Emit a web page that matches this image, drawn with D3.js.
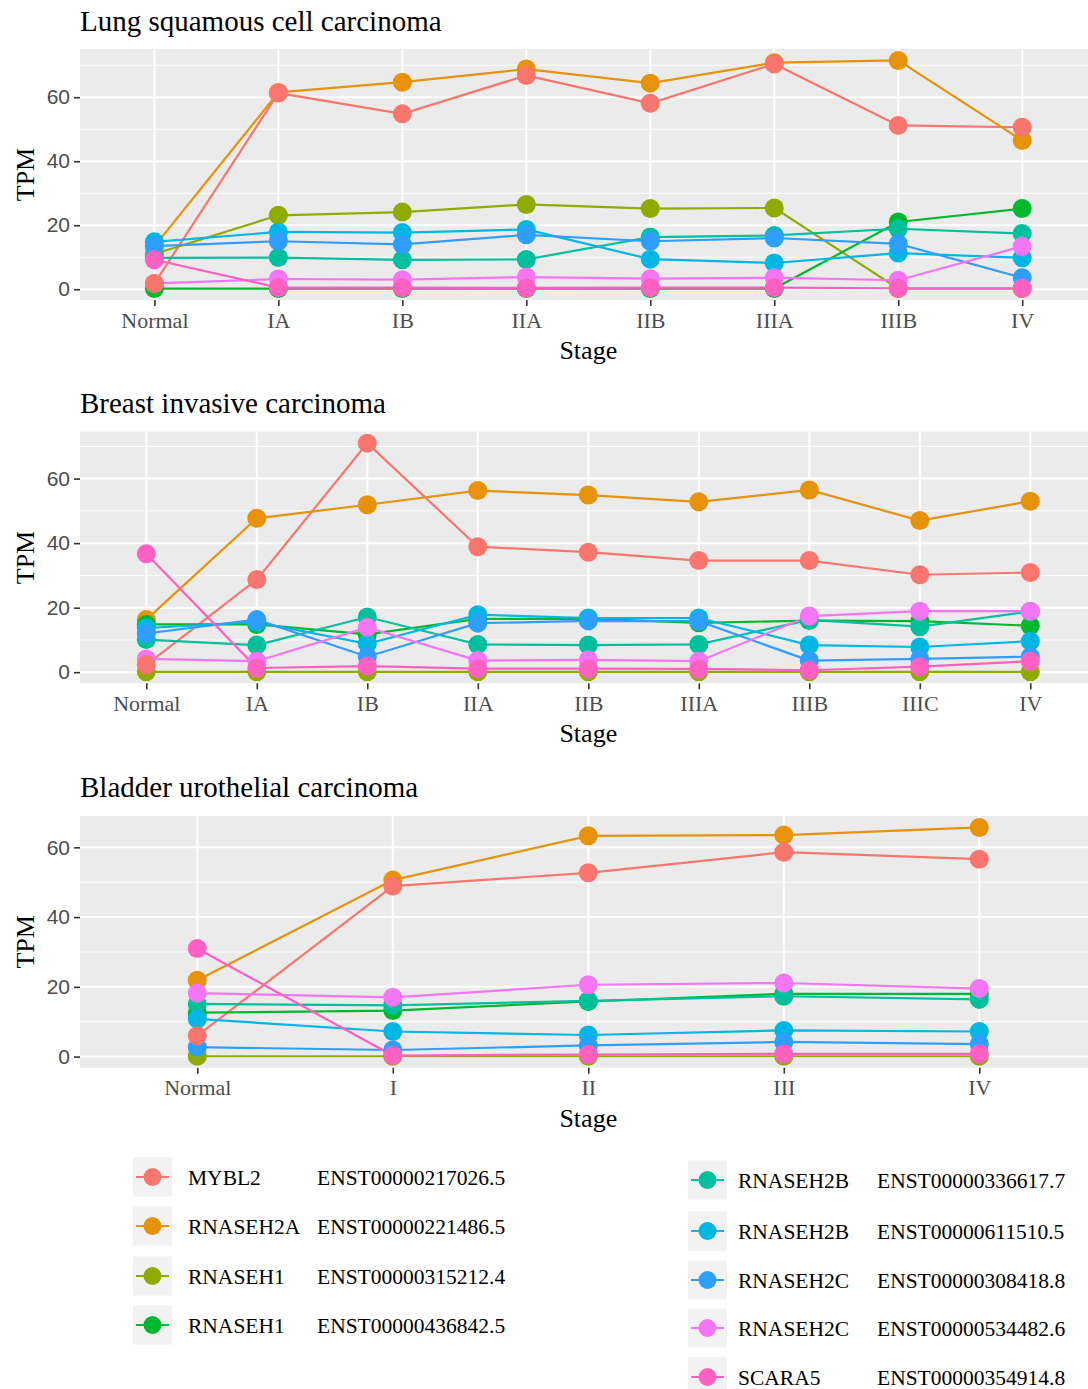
<!DOCTYPE html>
<html><head><meta charset="utf-8">
<script src="https://cdn.jsdelivr.net/npm/d3@7"></script>
<style>body{margin:0;background:#fff}svg{display:block}</style>
</head><body>
<script>
// ---------- data ----------
const seriesGenes = ["MYBL2","RNASEH2A","RNASEH1","RNASEH1","RNASEH2B","RNASEH2B","RNASEH2C","RNASEH2C","SCARA5"];
const seriesIds = ["ENST00000217026.5","ENST00000221486.5","ENST00000315212.4","ENST00000436842.5","ENST00000336617.7","ENST00000611510.5","ENST00000308418.8","ENST00000534482.6","ENST00000354914.8"];
const seriesColors = ["#F8766D","#E6920A","#8FAA00","#00B82E","#00BF9C","#00B6E2","#2E9EFF","#F476F5","#FF61C3"];

const lungStages = ["Normal","IA","IB","IIA","IIB","IIIA","IIIB","IV"];
const lungValues = [
  [1.8, 61.3, 54.8, 66.8, 58.1, 70.4, 51.2, 50.6],
  [13.4, 61.5, 64.7, 68.8, 64.4, 70.8, 71.5, 46.5],
  [11.0, 23.1, 24.1, 26.5, 25.2, 25.4, 0.2, 0.2],
  [0.2, 0.2, 0.2, 0.2, 0.2, 0.2, 21.0, 25.2],
  [9.8, 9.9, 9.2, 9.3, 16.3, 16.8, 18.9, 17.4],
  [14.8, 17.9, 17.7, 18.7, 9.4, 8.2, 11.3, 9.8],
  [13.5, 15.0, 14.0, 17.0, 15.0, 16.0, 14.2, 3.6],
  [1.8, 3.2, 3.0, 3.8, 3.3, 3.6, 2.8, 13.4],
  [9.2, 0.5, 0.5, 0.4, 0.5, 0.5, 0.3, 0.3]
];

const breastStages = ["Normal","IA","IB","IIA","IIB","IIIA","IIIB","IIIC","IV"];
const breastValues = [
  [2.3, 28.7, 71.0, 38.9, 37.2, 34.6, 34.6, 30.2, 30.9],
  [16.3, 47.7, 51.9, 56.3, 54.9, 52.8, 56.5, 47.0, 53.0],
  [0.1, 0.1, 0.1, 0.1, 0.1, 0.1, 0.1, 0.1, 0.1],
  [14.8, 14.8, 11.7, 16.5, 16.6, 15.3, 16.0, 15.8, 14.4],
  [10.1, 8.4, 17.1, 8.6, 8.4, 8.6, 16.2, 14.1, 18.8],
  [13.7, 15.5, 8.8, 17.8, 16.8, 16.8, 8.4, 7.8, 9.6],
  [12.0, 16.3, 4.8, 15.2, 15.9, 15.8, 3.6, 4.1, 4.8],
  [4.1, 3.4, 13.9, 3.6, 3.8, 3.4, 17.4, 18.9, 18.9],
  [36.7, 1.3, 1.9, 1.1, 1.1, 1.0, 0.6, 1.7, 3.4]
];

const bladderStages = ["Normal","I","II","III","IV"];
const bladderValues = [
  [6.0, 48.9, 52.7, 58.6, 56.6],
  [21.9, 50.6, 63.3, 63.5, 65.7],
  [0.1, 0.1, 0.1, 0.1, 0.1],
  [12.6, 13.2, 15.8, 18.0, 18.0],
  [15.1, 14.7, 16.0, 17.3, 16.4],
  [10.8, 7.2, 6.2, 7.5, 7.2],
  [2.7, 1.9, 3.2, 4.2, 3.6],
  [18.2, 17.0, 20.6, 21.1, 19.5],
  [31.0, 0.3, 0.6, 0.8, 0.8]
];

const panelTitles = ["Lung squamous cell carcinoma","Breast invasive carcinoma","Bladder urothelial carcinoma"];
const yTicks = [0, 20, 40, 60];
const yMinor = [10, 30, 50, 70];
const xTitle = "Stage";
const yTitle = "TPM";

// ---------- layout ----------
const W = 1088, H = 1389;
const svg = d3.select("body").append("svg").attr("width", W).attr("height", H);
const SERIF = "'Liberation Serif','Times New Roman',serif";
const SANS = "'Liberation Sans',Arial,sans-serif";

const panels = [
  {title: panelTitles[0], stages: lungStages, values: lungValues, top: 49, bottom: 300, titleY: 31},
  {title: panelTitles[1], stages: breastStages, values: breastValues, top: 431.7, bottom: 683.3, titleY: 413},
  {title: panelTitles[2], stages: bladderStages, values: bladderValues, top: 816, bottom: 1067.7, titleY: 797}
];
const plotL = 80, plotR = 1096.6;
// points of the first series are painted last (on top), as in the reference
const pointOrder = [1, 2, 3, 4, 5, 6, 7, 8, 0];

panels.forEach(p => {
  const g = svg.append("g");
  const all = p.values.flat();
  const [mn, mx] = d3.extent(all);
  const pad = (mx - mn) * 0.05;
  const y = d3.scaleLinear().domain([mn - pad, mx + pad]).range([p.bottom, p.top]);
  const x = d3.scalePoint().domain(p.stages).range([plotL, plotR]).padding(0.6);

  g.append("rect").attr("x", plotL).attr("y", p.top).attr("width", plotR - plotL).attr("height", p.bottom - p.top).attr("fill", "#ebebeb");
  g.selectAll(".ymin").data(yMinor.filter(v => y(v) >= p.top && y(v) <= p.bottom)).join("line")
    .attr("x1", plotL).attr("x2", plotR).attr("y1", d => y(d)).attr("y2", d => y(d))
    .attr("stroke", "#fff").attr("stroke-width", 1);
  g.selectAll(".ymaj").data(yTicks).join("line")
    .attr("x1", plotL).attr("x2", plotR).attr("y1", d => y(d)).attr("y2", d => y(d))
    .attr("stroke", "#fff").attr("stroke-width", 2);
  g.selectAll(".xmaj").data(p.stages).join("line")
    .attr("x1", d => x(d)).attr("x2", d => x(d)).attr("y1", p.top).attr("y2", p.bottom)
    .attr("stroke", "#fff").attr("stroke-width", 2);

  const ya = g.append("g").attr("transform", `translate(${plotL},0)`)
    .call(d3.axisLeft(y).tickValues(yTicks).tickSize(6).tickPadding(4));
  ya.select(".domain").remove();
  ya.selectAll("line").attr("stroke", "#333").attr("stroke-width", 1.6);
  ya.selectAll("text").attr("font-family", SANS).attr("font-size", 21).attr("fill", "#4d4d4d");

  const xa = g.append("g").attr("transform", `translate(0,${p.bottom})`)
    .call(d3.axisBottom(x).tickSize(6).tickPadding(0));
  xa.select(".domain").remove();
  xa.selectAll("line").attr("stroke", "#333").attr("stroke-width", 1.6);
  xa.selectAll("text").attr("font-family", SERIF).attr("font-size", 22).attr("fill", "#4d4d4d")
    .attr("dy", null).attr("y", 27.5);

  const line = d3.line().x((d, i) => x(p.stages[i])).y(d => y(d));
  p.values.forEach((vals, si) => {
    g.append("path").attr("d", line(vals)).attr("fill", "none")
      .attr("stroke", seriesColors[si]).attr("stroke-width", 2.2);
  });
  pointOrder.forEach(si => {
    g.selectAll(null).data(p.values[si]).join("circle")
      .attr("cx", (d, i) => x(p.stages[i])).attr("cy", d => y(d)).attr("r", 9.5)
      .attr("fill", seriesColors[si]);
  });

  svg.append("text").attr("x", plotL).attr("y", p.titleY).text(p.title)
    .attr("font-family", SERIF).attr("font-size", 29).attr("fill", "#000");
  svg.append("text").attr("x", (plotL + plotR) / 2).attr("y", p.bottom + 59).attr("text-anchor", "middle")
    .text(xTitle).attr("font-family", SERIF).attr("font-size", 26).attr("fill", "#000");
  svg.append("text").attr("transform", `translate(34,${(p.top + p.bottom) / 2}) rotate(-90)`)
    .attr("text-anchor", "middle").text(yTitle)
    .attr("font-family", SERIF).attr("font-size", 26).attr("fill", "#000");
});

// ---------- legend ----------
const legCols = [
  {idx: [0,1,2,3], keyX: 133, geneX: 188, idX: 317, rows: [1177, 1226, 1276, 1325]},
  {idx: [4,5,6,7,8], keyX: 688, geneX: 738, idX: 877, rows: [1180, 1231, 1280, 1328, 1377]}
];
legCols.forEach(c => {
  c.idx.forEach((si, k) => {
    const cy = c.rows[k];
    const lg = svg.append("g");
    lg.append("rect").attr("x", c.keyX).attr("y", cy - 19.5).attr("width", 39).attr("height", 39).attr("fill", "#f2f2f2");
    lg.append("line").attr("x1", c.keyX + 3).attr("x2", c.keyX + 36).attr("y1", cy).attr("y2", cy)
      .attr("stroke", seriesColors[si]).attr("stroke-width", 2.2);
    lg.append("circle").attr("cx", c.keyX + 19.5).attr("cy", cy).attr("r", 9).attr("fill", seriesColors[si]);
    lg.append("text").attr("x", c.geneX).attr("y", cy + 7.5).text(seriesGenes[si])
      .attr("font-family", SERIF).attr("font-size", 21.5).attr("fill", "#000");
    lg.append("text").attr("x", c.idX).attr("y", cy + 7.5).text(seriesIds[si])
      .attr("font-family", SERIF).attr("font-size", 21.5).attr("fill", "#000");
  });
});
</script>
</body></html>
